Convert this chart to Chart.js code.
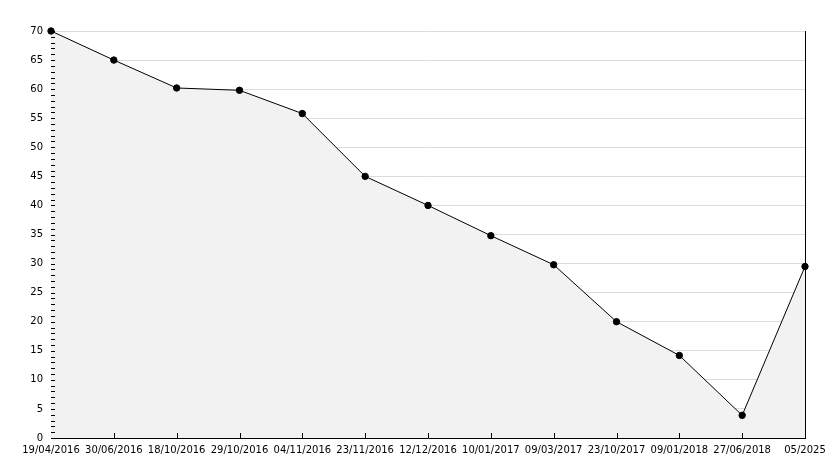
<!DOCTYPE html>
<html>
<head>
<meta charset="utf-8">
<script src="https://cdn.jsdelivr.net/npm/chart.js@4/dist/chart.umd.min.js"></script>
<style>
html, body { margin: 0; padding: 0; background: #fff; }
#wrap { width: 834px; height: 468px; }
</style>
</head>
<body>
<div id="wrap"><canvas id="lineChart"></canvas></div>
<script>
const labels = [
    '19/04/2016', '30/06/2016', '18/10/2016', '29/10/2016', '04/11/2016',
    '23/11/2016', '12/12/2016', '10/01/2017', '09/03/2017', '23/10/2017',
    '09/01/2018', '27/06/2018', '05/2025'
]
const values = [70, 65, 60.2, 59.8, 55.8, 45, 40, 34.8, 29.8, 20, 14.2, 3.9, 29.5]
const yMin = 0
const yMax = 70
const yStep = 5

// minor ticks on the y axis, up-ticks on the x axis, right border
const axisDeco = {
    id: 'axisDeco',
    afterDatasetsDraw(chart) {
        const ctx = chart.ctx
        const a = chart.chartArea
        const y = chart.scales.y
        const x = chart.scales.x
        ctx.save()
        ctx.strokeStyle = '#000'
        ctx.lineWidth = 1
        ctx.beginPath()
        for (let v = yMin; v <= yMax; v++) {
            const py = Math.round(y.getPixelForValue(v)) + 0.5
            ctx.moveTo(a.left, py)
            ctx.lineTo(a.left + 4, py)
        }
        for (let i = 1; i < labels.length - 1; i++) {
            const px = Math.round(x.getPixelForValue(i)) + 0.5
            ctx.moveTo(px, a.bottom)
            ctx.lineTo(px, a.bottom - 5)
        }
        const rx = Math.round(a.right) + 0.5
        ctx.moveTo(rx, Math.round(y.getPixelForValue(yMax)))
        ctx.lineTo(rx, a.bottom)
        ctx.stroke()
        ctx.restore()
    }
}

const line = document.querySelector('#lineChart')
new Chart(line, {
    type: 'line',
    data: {
        labels: labels,
        datasets: [
        {
            data: values,
            borderColor: '#000',
            borderWidth: 1,
            backgroundColor: '#f2f2f2',
            fill: 'origin',
            tension: 0,
            clip: false,
            pointRadius: 3.2,
            pointBackgroundColor: '#000',
            pointBorderColor: '#000',
            pointBorderWidth: 1
        }
        ]
    },
    options: {
        responsive: true,
        maintainAspectRatio: false,
        animation: false,
        layout: { padding: { top: 31, right: 29, left: 0, bottom: 0 } },
        plugins: { legend: { display: false }, tooltip: { enabled: false } },
        scales: {
            x: {
                offset: false,
                afterFit(s) { s.height = 30 },
                grid: { display: false },
                border: { display: true, color: '#000', width: 1 },
                ticks: {
                    color: '#000',
                    font: { family: 'DejaVu Sans', size: 10 },
                    maxRotation: 0,
                    autoSkip: false,
                    padding: -2
                }
            },
            y: {
                min: yMin,
                max: yMax,
                afterFit(s) { s.width = 51 },
                grid: { color: '#dcdcdc', drawTicks: false },
                border: { display: true, color: '#000', width: 1 },
                ticks: {
                    stepSize: yStep,
                    color: '#000',
                    font: { family: 'DejaVu Sans', size: 10 },
                    padding: 8
                }
            }
        }
    },
    plugins: [axisDeco]
})
</script>
</body>
</html>
